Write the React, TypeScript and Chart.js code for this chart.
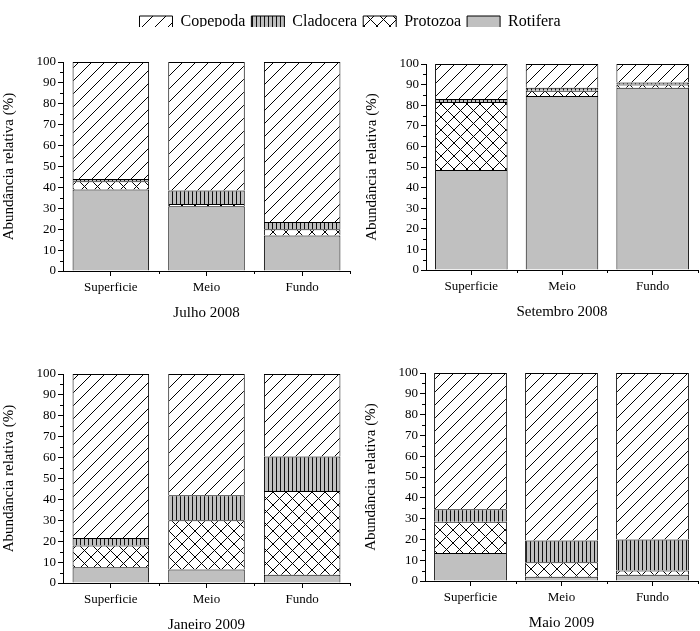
import React, { useEffect, useRef } from 'react';
import { Chart, registerables } from 'chart.js';
Chart.register(...registerables);

Chart.defaults.font.family = "'Liberation Serif', 'Times New Roman', serif";
Chart.defaults.color = '#000';

const groups = ['Superficie', 'Meio', 'Fundo'];
const seriesNames = ['Rotifera', 'Protozoa', 'Cladocera', 'Copepoda'];
const yTicksMajor = [0, 10, 20, 30, 40, 50, 60, 70, 80, 90, 100];

// Julho 2008
const julRotifera = [39, 31, 17];
const julProtozoa = [4, 1, 3];
const julCladocera = [1, 6.5, 3.5];
const julCopepoda = [56, 61.5, 76.5];

// Setembro 2008
const setRotifera = [48.5, 84.5, 88.5];
const setProtozoa = [33, 2.5, 1.5];
const setCladocera = [1.5, 1.5, 1];
const setCopepoda = [17, 11.5, 9];

// Janeiro 2009
const janRotifera = [7.5, 6.5, 4];
const janProtozoa = [10.5, 23.5, 40];
const janCladocera = [3.5, 12, 16.5];
const janCopepoda = [78.5, 58, 39.5];

// Maio 2009
const maiRotifera = [13.5, 2, 3];
const maiProtozoa = [15, 7, 2];
const maiCladocera = [6, 10.5, 15];
const maiCopepoda = [65.5, 80.5, 80];

const GRAY = '#c0c0c0';

let patternCache: any = null;
function getPatterns() {
  if (patternCache) return patternCache;
  const mk = (w: number, h: number, draw: (c: CanvasRenderingContext2D) => void) => {
    const cv = document.createElement('canvas');
    cv.width = w;
    cv.height = h;
    const c = cv.getContext('2d')!;
    draw(c);
    return c.createPattern(cv, 'repeat');
  };
  const s = 13;
  const diag = mk(s, s, (c) => {
    c.fillStyle = '#fff';
    c.fillRect(0, 0, s, s);
    c.strokeStyle = '#000';
    c.lineWidth = 1;
    c.beginPath();
    c.moveTo(-1, s + 1);
    c.lineTo(s + 1, -1);
    c.stroke();
  });
  const cross = mk(s, s, (c) => {
    c.fillStyle = '#fff';
    c.fillRect(0, 0, s, s);
    c.strokeStyle = '#000';
    c.lineWidth = 1;
    c.beginPath();
    c.moveTo(-1, s + 1);
    c.lineTo(s + 1, -1);
    c.moveTo(-1, -1);
    c.lineTo(s + 1, s + 1);
    c.stroke();
  });
  const vert = mk(4, 4, (c) => {
    c.fillStyle = GRAY;
    c.fillRect(0, 0, 4, 4);
    c.fillStyle = '#111';
    c.fillRect(0, 0, 1, 4);
  });
  patternCache = { diag, cross, vert };
  return patternCache;
}

function buildDatasets(rot: number[], pro: number[], cla: number[], cop: number[], skip: any) {
  const p = getPatterns();
  const fills = [GRAY, p.cross, p.vert, p.diag];
  const vals = [rot, pro, cla, cop];
  return seriesNames.map((name, i) => ({
    label: name,
    data: vals[i],
    backgroundColor: fills[i],
    borderColor: '#000',
    borderWidth: 1,
    borderSkipped: skip,
    barPercentage: 0.8,
    categoryPercentage: 1.0,
  }));
}

const minorTicks = {
  id: 'minorTicks',
  afterDraw(chart: any) {
    const { ctx, scales, chartArea } = chart;
    const x = scales.x;
    const y = scales.y;
    ctx.save();
    ctx.strokeStyle = '#000';
    ctx.lineWidth = 1;
    ctx.beginPath();
    for (let i = 0; i < yTicksMajor.length - 1; i++) {
      const v = (yTicksMajor[i] + yTicksMajor[i + 1]) / 2;
      const py = Math.round(y.getPixelForValue(v)) + 0.5;
      ctx.moveTo(chartArea.left, py);
      ctx.lineTo(chartArea.left - 3, py);
    }
    const n = groups.length;
    for (let i = 0; i < n; i++) {
      const a = x.getPixelForValue(i);
      const b = i + 1 < n ? x.getPixelForValue(i + 1) : a + (a - x.getPixelForValue(i - 1));
      const px = Math.round((a + b) / 2) + 0.5;
      ctx.moveTo(px, chartArea.bottom);
      ctx.lineTo(px, chartArea.bottom + 3);
    }
    ctx.stroke();
    ctx.restore();
  },
};

type PanelProps = {
  title: string;
  rot: number[];
  pro: number[];
  cla: number[];
  cop: number[];
  left: number;
  top: number;
  width: number;
  height: number;
};

function Panel({ title, rot, pro, cla, cop, left, top, width, height }: PanelProps) {
  const ref = useRef<HTMLCanvasElement>(null);
  useEffect(() => {
    const chart = new Chart(ref.current!, {
      type: 'bar',
      data: { labels: groups, datasets: buildDatasets(rot, pro, cla, cop, 'bottom') as any },
      options: {
        responsive: false,
        animation: false,
        layout: { padding: { top: 12, right: 2, left: 0, bottom: 0 } },
        plugins: { legend: { display: false }, tooltip: { enabled: false } },
        scales: {
          x: {
            stacked: true,
            grid: { display: true, drawOnChartArea: false, drawTicks: true, tickLength: 5, color: '#000', offset: false },
            border: { display: true, color: '#000', width: 1 },
            ticks: { font: { size: 13 }, color: '#000', padding: 4, maxRotation: 0 },
            title: { display: true, text: title, font: { size: 15 }, color: '#000', padding: { top: 4, bottom: 8 } },
            afterFit: (s: any) => { s.height = 59; },
          },
          y: {
            stacked: true,
            min: 0,
            max: 100,
            grid: { display: true, drawOnChartArea: false, drawTicks: true, tickLength: 5, color: '#000' },
            border: { display: true, color: '#000', width: 1 },
            ticks: { stepSize: 10, font: { size: 13 }, color: '#000', padding: 2 },
            title: { display: true, text: 'Abundância relativa (%)', font: { size: 15 }, color: '#000', padding: { top: 0, bottom: 9 } },
            afterFit: (s: any) => { s.width = 63; },
          },
        },
      } as any,
      plugins: [minorTicks],
    });
    return () => chart.destroy();
  }, []);
  return (
    <canvas
      ref={ref}
      width={width}
      height={height}
      style={{ position: 'absolute', left, top, width, height }}
    />
  );
}

function Legend() {
  const ref = useRef<HTMLCanvasElement>(null);
  useEffect(() => {
    const ds = buildDatasets([], [], [], [], false);
    const chart = new Chart(ref.current!, {
      type: 'bar',
      data: { labels: [], datasets: ds as any },
      options: {
        responsive: false,
        animation: false,
        layout: { padding: { top: 8 } },
        plugins: {
          tooltip: { enabled: false },
          legend: {
            display: true,
            position: 'top',
            reverse: true,
            labels: { boxWidth: 33, boxHeight: 12, padding: 6, font: { size: 16 }, color: '#000' },
          },
        },
        scales: { x: { display: false }, y: { display: false } },
      } as any,
    });
    return () => chart.destroy();
  }, []);
  return (
    <canvas ref={ref} width={700} height={46} style={{ position: 'absolute', left: 0, top: 0, width: 700, height: 46 }} />
  );
}

export default function App() {
  return (
    <div style={{ position: 'fixed', left: 0, top: 0, width: 700, height: 631, background: '#fff', overflow: 'hidden' }}>
      <Legend />
      <Panel title="Julho 2008" rot={julRotifera} pro={julProtozoa} cla={julCladocera} cop={julCopepoda} left={0} top={50} width={352} height={280} />
      <Panel title="Setembro 2008" rot={setRotifera} pro={setProtozoa} cla={setCladocera} cop={setCopepoda} left={363} top={52} width={337} height={277} />
      <Panel title="Janeiro 2009" rot={janRotifera} pro={janProtozoa} cla={janCladocera} cop={janCopepoda} left={0} top={362} width={352} height={280} />
      <Panel title="Maio 2009" rot={maiRotifera} pro={maiProtozoa} cla={maiCladocera} cop={maiCopepoda} left={362} top={361} width={338} height={279} />
    </div>
  );
}
